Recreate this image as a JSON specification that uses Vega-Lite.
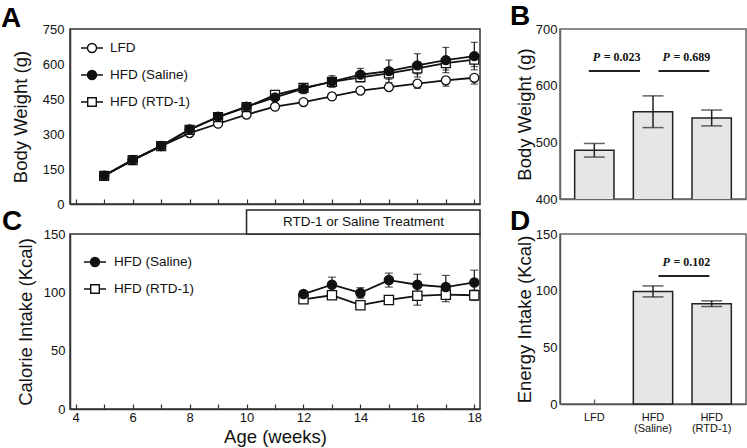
{
  "$schema": "https://vega.github.io/schema/vega-lite/v6.json",
  "padding": {"top": 2, "left": 0, "right": 0, "bottom": 0},
  "background": "white",
  "columns": 2,
  "align": "each",
  "spacing": {"row": -6, "column": 26},
  "config": {
    "font": "Liberation Sans",
    "view": {"stroke": "#333", "strokeWidth": 1.5},
    "axis": {"labelFont": "Liberation Sans", "labelFontSize": 13, "labelColor": "#111", "titleFont": "Liberation Sans", "titleFontSize": 18.5, "titleFontWeight": "normal", "titleColor": "#111", "domainColor": "#333", "domainWidth": 1.5, "tickColor": "#333", "tickWidth": 1.2, "grid": false, "labelFlush": false, "labelOverlap": false},
    "title": {"font": "Liberation Sans", "fontSize": 28, "fontWeight": "bold", "anchor": "start", "frame": "group", "baseline": "alphabetic", "color": "#000"},
    "legend": {"labelFont": "Liberation Sans", "labelFontSize": 13.5, "labelColor": "#111"}
  },
  "datasets": {
    "a": [
      {"week": 5, "series": "LFD", "mean": 121},
      {"week": 6, "series": "LFD", "mean": 188},
      {"week": 7, "series": "LFD", "mean": 248},
      {"week": 8, "series": "LFD", "mean": 304},
      {"week": 9, "series": "LFD", "mean": 344},
      {"week": 10, "series": "LFD", "mean": 383},
      {"week": 11, "series": "LFD", "mean": 417},
      {"week": 12, "series": "LFD", "mean": 437},
      {"week": 13, "series": "LFD", "mean": 461},
      {"week": 14, "series": "LFD", "mean": 486, "lo": 478, "hi": 486},
      {"week": 15, "series": "LFD", "mean": 501, "lo": 489, "hi": 501},
      {"week": 16, "series": "LFD", "mean": 516, "lo": 496, "hi": 516},
      {"week": 17, "series": "LFD", "mean": 530, "lo": 505, "hi": 530},
      {"week": 18, "series": "LFD", "mean": 541, "lo": 514, "hi": 541},
      {"week": 5, "series": "HFD (RTD-1)", "mean": 121},
      {"week": 6, "series": "HFD (RTD-1)", "mean": 188},
      {"week": 7, "series": "HFD (RTD-1)", "mean": 248},
      {"week": 8, "series": "HFD (RTD-1)", "mean": 318},
      {"week": 9, "series": "HFD (RTD-1)", "mean": 372},
      {"week": 10, "series": "HFD (RTD-1)", "mean": 415},
      {"week": 11, "series": "HFD (RTD-1)", "mean": 468, "lo": 460, "hi": 468},
      {"week": 12, "series": "HFD (RTD-1)", "mean": 498, "lo": 482, "hi": 498},
      {"week": 13, "series": "HFD (RTD-1)", "mean": 523, "lo": 505, "hi": 523},
      {"week": 14, "series": "HFD (RTD-1)", "mean": 543, "lo": 525, "hi": 543},
      {"week": 15, "series": "HFD (RTD-1)", "mean": 560, "lo": 535, "hi": 560},
      {"week": 16, "series": "HFD (RTD-1)", "mean": 581, "lo": 558, "hi": 581},
      {"week": 17, "series": "HFD (RTD-1)", "mean": 604, "lo": 574, "hi": 604},
      {"week": 18, "series": "HFD (RTD-1)", "mean": 619, "lo": 589, "hi": 619},
      {"week": 5, "series": "HFD (Saline)", "mean": 122},
      {"week": 6, "series": "HFD (Saline)", "mean": 189},
      {"week": 7, "series": "HFD (Saline)", "mean": 249},
      {"week": 8, "series": "HFD (Saline)", "mean": 320},
      {"week": 9, "series": "HFD (Saline)", "mean": 374},
      {"week": 10, "series": "HFD (Saline)", "mean": 417},
      {"week": 11, "series": "HFD (Saline)", "mean": 457, "lo": 447, "hi": 467},
      {"week": 12, "series": "HFD (Saline)", "mean": 494, "lo": 473, "hi": 515},
      {"week": 13, "series": "HFD (Saline)", "mean": 525, "lo": 500, "hi": 550},
      {"week": 14, "series": "HFD (Saline)", "mean": 554, "lo": 527, "hi": 581},
      {"week": 15, "series": "HFD (Saline)", "mean": 569, "lo": 521, "hi": 617},
      {"week": 16, "series": "HFD (Saline)", "mean": 594, "lo": 544, "hi": 644},
      {"week": 17, "series": "HFD (Saline)", "mean": 617, "lo": 563, "hi": 671},
      {"week": 18, "series": "HFD (Saline)", "mean": 634, "lo": 575, "hi": 693}
    ],
    "c": [
      {"week": 12, "series": "HFD (RTD-1)", "mean": 94, "lo": 92, "hi": 96},
      {"week": 13, "series": "HFD (RTD-1)", "mean": 97.5, "lo": 95.5, "hi": 99.5},
      {"week": 14, "series": "HFD (RTD-1)", "mean": 89, "lo": 87, "hi": 91},
      {"week": 15, "series": "HFD (RTD-1)", "mean": 93.5, "lo": 90.5, "hi": 96.5},
      {"week": 16, "series": "HFD (RTD-1)", "mean": 97, "lo": 89, "hi": 105},
      {"week": 17, "series": "HFD (RTD-1)", "mean": 98, "lo": 92, "hi": 104},
      {"week": 18, "series": "HFD (RTD-1)", "mean": 97.5, "lo": 93, "hi": 102},
      {"week": 12, "series": "HFD (Saline)", "mean": 98.5, "lo": 96.5, "hi": 100.5},
      {"week": 13, "series": "HFD (Saline)", "mean": 106.5, "lo": 100, "hi": 113},
      {"week": 14, "series": "HFD (Saline)", "mean": 99.5, "lo": 95, "hi": 104},
      {"week": 15, "series": "HFD (Saline)", "mean": 110.5, "lo": 104.5, "hi": 116.5},
      {"week": 16, "series": "HFD (Saline)", "mean": 106.5, "lo": 97.5, "hi": 115.5},
      {"week": 17, "series": "HFD (Saline)", "mean": 104.5, "lo": 94.5, "hi": 114.5},
      {"week": 18, "series": "HFD (Saline)", "mean": 108.5, "lo": 98, "hi": 119}
    ],
    "treatment": [
      {"label": "RTD-1 or Saline Treatment", "from": 10, "to": 18.2, "base": 150, "top": 170.5}
    ],
    "b": [
      {"group": "LFD", "mean": 486, "lo": 474, "hi": 498},
      {"group": "HFD (Saline)", "mean": 554, "lo": 526, "hi": 582},
      {"group": "HFD (RTD-1)", "mean": 543, "lo": 529, "hi": 557}
    ],
    "d": [
      {"group": "HFD (Saline)", "mean": 99.2, "lo": 94.5, "hi": 104.2},
      {"group": "HFD (RTD-1)", "mean": 88.5, "lo": 86, "hi": 91}
    ]
  },
  "concat": [
    {
      "width": 410,
      "height": 175,
      "title": {"text": "A", "dx": -69, "offset": -9.6},
      "data": {"name": "a"},
      "encoding": {
        "x": {"field": "week", "type": "quantitative", "title": null, "scale": {"domain": [3.8, 18.2], "nice": false, "zero": false}, "axis": {"values": [4, 5, 6, 7, 8, 9, 10, 11, 12, 13, 14, 15, 16, 17, 18], "labels": false, "tickSize": -5, "title": null}},
        "y": {"field": "mean", "type": "quantitative", "title": "Body Weight (g)", "scale": {"domain": [0, 750], "nice": false}, "axis": {"values": [0, 150, 300, 450, 600, 750], "ticks": false, "labelPadding": 6, "titlePadding": 12}}
      },
      "layer": [
        {"mark": {"type": "line", "color": "#111", "strokeWidth": 1.8}, "encoding": {"detail": {"field": "series"}}},
        {"transform": [{"filter": "isValid(datum.lo)"}], "mark": {"type": "errorbar", "ticks": true, "size": 7, "thickness": 1.2, "color": "#111"}, "encoding": {"y": {"field": "lo", "type": "quantitative", "title": "Body Weight (g)"}, "y2": {"field": "hi"}}},
        {"mark": {"type": "point", "size": 80, "filled": true, "stroke": "#111", "strokeWidth": 1.3, "opacity": 1},
         "encoding": {
           "shape": {"field": "series", "type": "nominal", "scale": {"domain": ["LFD", "HFD (Saline)", "HFD (RTD-1)"], "range": ["circle", "circle", "square"]}, "legend": null},
           "fill": {"field": "series", "type": "nominal", "scale": {"domain": ["LFD", "HFD (Saline)", "HFD (RTD-1)"], "range": ["white", "#111", "white"]}, "legend": null}
         }},
        {"transform": [{"filter": "false"}], "mark": {"type": "point", "filled": true, "stroke": "#111", "strokeWidth": 1.3},
         "encoding": {
           "shape": {"field": "series", "type": "nominal", "scale": {"domain": ["LFD", "HFD (Saline)", "HFD (RTD-1)"], "range": ["M-1,0H-0.41M0.41,0H1M0.41,0A0.41,0.41,0,1,1,-0.41,0A0.41,0.41,0,1,1,0.41,0Z", "M-1,0H-0.41M0.41,0H1M0.41,0A0.41,0.41,0,1,1,-0.41,0A0.41,0.41,0,1,1,0.41,0Z", "M-1,0H-0.39M0.39,0H1M-0.39,-0.39H0.39V0.39H-0.39Z"]},
             "legend": {"orient": "none", "legendX": 10, "legendY": 7, "title": null, "symbolSize": 484, "symbolStrokeColor": "#111", "symbolStrokeWidth": 1.4, "symbolOpacity": 1, "labelOffset": 6, "rowPadding": 7, "padding": 0,
               "encode": {"symbols": {"update": {"stroke": {"value": "#111"}, "strokeWidth": {"value": 1.4}, "opacity": {"value": 1}}}}}},
           "fill": {"field": "series", "type": "nominal", "scale": {"domain": ["LFD", "HFD (Saline)", "HFD (RTD-1)"], "range": ["white", "#111", "white"]},
             "legend": {"orient": "none", "legendX": 10, "legendY": 7, "title": null, "symbolSize": 484, "symbolStrokeColor": "#111", "symbolStrokeWidth": 1.4, "symbolOpacity": 1, "labelOffset": 6, "rowPadding": 7, "padding": 0,
               "encode": {"symbols": {"update": {"stroke": {"value": "#111"}, "strokeWidth": {"value": 1.4}, "opacity": {"value": 1}}}}}}
         }}
      ],
      "resolve": {"scale": {"shape": "independent", "fill": "independent"}}
    },
    {
      "width": 186,
      "height": 170,
      "view": {"stroke": "#666", "strokeWidth": 1.5},
      "title": {"text": "B", "dx": -50, "offset": -8.3},
      "encoding": {
        "x": {"field": "group", "type": "nominal", "sort": null, "scale": {"domain": ["LFD", "HFD (Saline)", "HFD (RTD-1)"], "paddingInner": 0.33, "paddingOuter": 0.25}, "axis": {"labels": false, "ticks": false, "title": null, "domainColor": "#666"}}
      },
      "layer": [
        {"data": {"name": "b"}, "mark": {"type": "bar", "fill": "#e6e6e6", "stroke": "#222", "strokeWidth": 1.5, "clip": true},
         "encoding": {"y": {"field": "mean", "type": "quantitative", "title": "Body Weight (g)", "scale": {"domain": [400, 700], "zero": false, "nice": false}, "axis": {"values": [400, 500, 600, 700], "ticks": false, "labelPadding": 3, "titlePadding": 1, "domainColor": "#666"}}}},
        {"data": {"name": "b"}, "mark": {"type": "errorbar", "ticks": true, "size": 21, "thickness": 1.5, "color": "#222"},
         "encoding": {"y": {"field": "lo", "type": "quantitative", "title": "Body Weight (g)"}, "y2": {"field": "hi"}}},
        {"data": {"values": [{"from": "LFD", "to": "HFD (Saline)", "y": 626}]}, "mark": {"type": "rule", "strokeWidth": 2, "color": "#222"},
         "encoding": {"x": {"field": "from", "type": "nominal", "bandPosition": 0.36}, "x2": {"field": "to", "bandPosition": 0.17}, "y": {"field": "y", "type": "quantitative", "title": "Body Weight (g)"}}},
        {"data": {"values": [{"from": "HFD (Saline)", "to": "HFD (RTD-1)", "y": 626}]}, "mark": {"type": "rule", "strokeWidth": 2, "color": "#222"},
         "encoding": {"x": {"field": "from", "type": "nominal", "bandPosition": 0.64}, "x2": {"field": "to", "bandPosition": 0.44}, "y": {"field": "y", "type": "quantitative", "title": "Body Weight (g)"}}},
        {"data": {"values": [{"from": "LFD", "p": "P", "val": "= 0.023", "y": 650}]}, "mark": {"type": "text", "font": "Liberation Serif", "fontSize": 12, "fontWeight": "bold", "fontStyle": "italic", "align": "left", "baseline": "middle", "color": "#111"},
         "encoding": {"x": {"field": "from", "type": "nominal", "bandPosition": 0.46}, "y": {"field": "y", "type": "quantitative", "title": "Body Weight (g)"}, "text": {"field": "p"}}},
        {"data": {"values": [{"from": "LFD", "p": "P", "val": "= 0.023", "y": 650}]}, "mark": {"type": "text", "font": "Liberation Serif", "fontSize": 12, "fontWeight": "bold", "align": "left", "baseline": "middle", "dx": 11, "color": "#111"},
         "encoding": {"x": {"field": "from", "type": "nominal", "bandPosition": 0.46}, "y": {"field": "y", "type": "quantitative", "title": "Body Weight (g)"}, "text": {"field": "val"}}},
        {"data": {"values": [{"from": "HFD (Saline)", "p": "P", "val": "= 0.689", "y": 650}]}, "mark": {"type": "text", "font": "Liberation Serif", "fontSize": 12, "fontWeight": "bold", "fontStyle": "italic", "align": "left", "baseline": "middle", "color": "#111"},
         "encoding": {"x": {"field": "from", "type": "nominal", "bandPosition": 0.74}, "y": {"field": "y", "type": "quantitative", "title": "Body Weight (g)"}, "text": {"field": "p"}}},
        {"data": {"values": [{"from": "HFD (Saline)", "p": "P", "val": "= 0.689", "y": 650}]}, "mark": {"type": "text", "font": "Liberation Serif", "fontSize": 12, "fontWeight": "bold", "align": "left", "baseline": "middle", "dx": 11, "color": "#111"},
         "encoding": {"x": {"field": "from", "type": "nominal", "bandPosition": 0.74}, "y": {"field": "y", "type": "quantitative", "title": "Body Weight (g)"}, "text": {"field": "val"}}}
      ]
    },
    {
      "width": 410,
      "height": 175,
      "title": {"text": "C", "dx": -68, "offset": -27},
      "data": {"name": "c"},
      "encoding": {
        "x": {"field": "week", "type": "quantitative", "title": "Age (weeks)", "scale": {"domain": [3.8, 18.2], "nice": false, "zero": false}, "axis": {"values": [4, 5, 6, 7, 8, 9, 10, 11, 12, 13, 14, 15, 16, 17, 18], "labelExpr": "datum.value % 2 === 0 ? datum.label : ''", "tickSize": -5, "labelPadding": 7.5, "titlePadding": 3}},
        "y": {"field": "mean", "type": "quantitative", "title": "Calorie Intake (Kcal)", "scale": {"domain": [0, 150], "nice": false}, "axis": {"values": [0, 50, 100, 150], "ticks": false, "labelPadding": 5, "titlePadding": 8}}
      },
      "layer": [
        {"mark": {"type": "line", "color": "#111", "strokeWidth": 1.8}, "encoding": {"detail": {"field": "series"}}},
        {"mark": {"type": "errorbar", "ticks": true, "size": 8, "thickness": 1.2, "color": "#111"}, "encoding": {"y": {"field": "lo", "type": "quantitative", "title": "Calorie Intake (Kcal)"}, "y2": {"field": "hi"}}},
        {"mark": {"type": "point", "size": 85, "filled": true, "stroke": "#111", "strokeWidth": 1.3, "opacity": 1},
         "encoding": {
           "shape": {"field": "series", "type": "nominal", "scale": {"domain": ["HFD (Saline)", "HFD (RTD-1)"], "range": ["circle", "square"]}, "legend": null},
           "fill": {"field": "series", "type": "nominal", "scale": {"domain": ["HFD (Saline)", "HFD (RTD-1)"], "range": ["#111", "white"]}, "legend": null}
         }},
        {"transform": [{"filter": "false"}], "mark": {"type": "point", "filled": true, "stroke": "#111", "strokeWidth": 1.3},
         "encoding": {
           "shape": {"field": "series", "type": "nominal", "scale": {"domain": ["HFD (Saline)", "HFD (RTD-1)"], "range": ["M-1,0H-0.41M0.41,0H1M0.41,0A0.41,0.41,0,1,1,-0.41,0A0.41,0.41,0,1,1,0.41,0Z", "M-1,0H-0.39M0.39,0H1M-0.39,-0.39H0.39V0.39H-0.39Z"]},
             "legend": {"orient": "none", "legendX": 13, "legendY": 16, "title": null, "symbolSize": 484, "symbolStrokeColor": "#111", "symbolStrokeWidth": 1.4, "symbolOpacity": 1, "labelOffset": 7, "rowPadding": 7, "padding": 0,
               "encode": {"symbols": {"update": {"stroke": {"value": "#111"}, "strokeWidth": {"value": 1.4}, "opacity": {"value": 1}}}}}},
           "fill": {"field": "series", "type": "nominal", "scale": {"domain": ["HFD (Saline)", "HFD (RTD-1)"], "range": ["#111", "white"]},
             "legend": {"orient": "none", "legendX": 13, "legendY": 16, "title": null, "symbolSize": 484, "symbolStrokeColor": "#111", "symbolStrokeWidth": 1.4, "symbolOpacity": 1, "labelOffset": 7, "rowPadding": 7, "padding": 0,
               "encode": {"symbols": {"update": {"stroke": {"value": "#111"}, "strokeWidth": {"value": 1.4}, "opacity": {"value": 1}}}}}}
         }},
        {"data": {"name": "treatment"}, "mark": {"type": "rect", "fill": "white", "stroke": "#222", "strokeWidth": 1.5},
         "encoding": {"x": {"field": "from", "type": "quantitative", "title": "Age (weeks)"}, "x2": {"field": "to"}, "y": {"field": "base", "type": "quantitative", "title": "Calorie Intake (Kcal)"}, "y2": {"field": "top"}}},
        {"data": {"name": "treatment"}, "mark": {"type": "text", "fontSize": 13.5, "font": "Liberation Sans", "color": "#111", "baseline": "middle", "align": "center", "dx": 117, "dy": -12},
         "encoding": {"x": {"field": "from", "type": "quantitative", "title": "Age (weeks)"}, "y": {"field": "base", "type": "quantitative", "title": "Calorie Intake (Kcal)"}, "text": {"field": "label"}}}
      ],
      "resolve": {"scale": {"shape": "independent", "fill": "independent"}}
    },
    {
      "width": 186,
      "height": 170,
      "view": {"stroke": "#666", "strokeWidth": 1.5},
      "title": {"text": "D", "dx": -50, "offset": -7.6},
      "encoding": {
        "x": {"field": "group", "type": "nominal", "sort": null, "scale": {"domain": ["LFD", "HFD (Saline)", "HFD (RTD-1)"], "paddingInner": 0.33, "paddingOuter": 0.25}, "axis": {"labelExpr": "datum.value == 'LFD' ? 'LFD' : split(datum.value, ' ')", "labelFontSize": 11, "labelLineHeight": 11.5, "labelAngle": 0, "tickSize": -5, "labelPadding": 12, "title": null, "domainColor": "#555", "tickColor": "#555"}}
      },
      "layer": [
        {"data": {"name": "d"}, "mark": {"type": "bar", "fill": "#e6e6e6", "stroke": "#222", "strokeWidth": 1.5},
         "encoding": {"y": {"field": "mean", "type": "quantitative", "title": "Energy Intake (Kcal)", "scale": {"domain": [0, 150], "nice": false}, "axis": {"values": [0, 50, 100, 150], "ticks": false, "labelPadding": 3, "titlePadding": 1, "domainColor": "#555"}}}},
        {"data": {"name": "d"}, "mark": {"type": "errorbar", "ticks": true, "size": 21, "thickness": 1.5, "color": "#222"},
         "encoding": {"y": {"field": "lo", "type": "quantitative", "title": "Energy Intake (Kcal)"}, "y2": {"field": "hi"}}},
        {"data": {"values": [{"from": "HFD (Saline)", "to": "HFD (RTD-1)", "y": 113}]}, "mark": {"type": "rule", "strokeWidth": 2, "color": "#222"},
         "encoding": {"x": {"field": "from", "type": "nominal", "bandPosition": 0.64}, "x2": {"field": "to", "bandPosition": 0.44}, "y": {"field": "y", "type": "quantitative", "title": "Energy Intake (Kcal)"}}},
        {"data": {"values": [{"from": "HFD (Saline)", "p": "P", "val": "= 0.102", "y": 125}]}, "mark": {"type": "text", "font": "Liberation Serif", "fontSize": 12, "fontWeight": "bold", "fontStyle": "italic", "align": "left", "baseline": "middle", "color": "#111"},
         "encoding": {"x": {"field": "from", "type": "nominal", "bandPosition": 0.74}, "y": {"field": "y", "type": "quantitative", "title": "Energy Intake (Kcal)"}, "text": {"field": "p"}}},
        {"data": {"values": [{"from": "HFD (Saline)", "p": "P", "val": "= 0.102", "y": 125}]}, "mark": {"type": "text", "font": "Liberation Serif", "fontSize": 12, "fontWeight": "bold", "align": "left", "baseline": "middle", "dx": 11, "color": "#111"},
         "encoding": {"x": {"field": "from", "type": "nominal", "bandPosition": 0.74}, "y": {"field": "y", "type": "quantitative", "title": "Energy Intake (Kcal)"}, "text": {"field": "val"}}}
      ]
    }
  ]
}
